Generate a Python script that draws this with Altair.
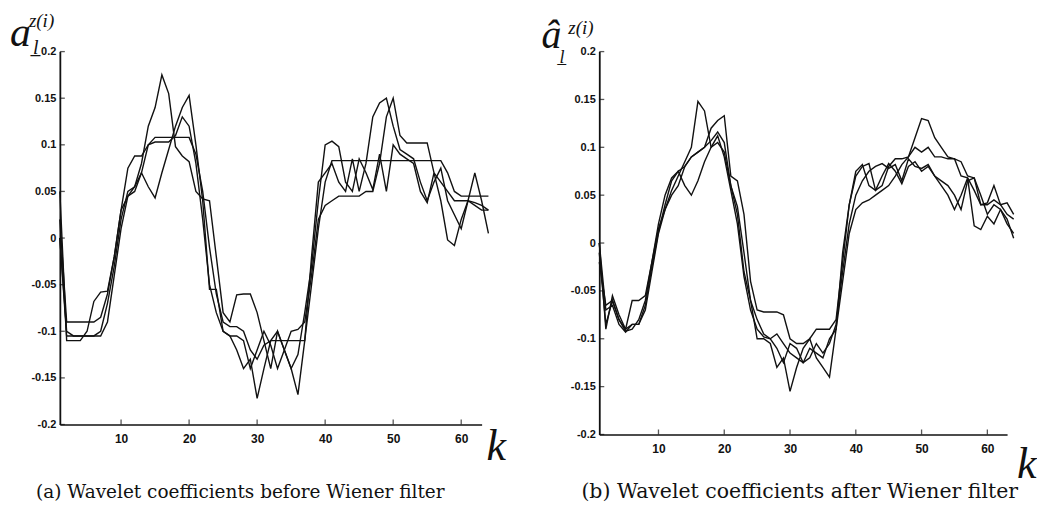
import altair as alt
import pandas as pd

K = list(range(1, 65))

# Panel (a): before Wiener filter
A1 = [0.02, -0.09, -0.09, -0.09, -0.09, -0.09, -0.085, -0.06, -0.02, 0.03,
      0.075, 0.088, 0.088, 0.1, 0.108, 0.108, 0.108, 0.108, 0.108, 0.108,
      0.09, 0.05, -0.01, -0.06, -0.09, -0.095, -0.095, -0.1, -0.12, -0.13,
      -0.115, -0.11, -0.11, -0.11, -0.11, -0.11, -0.11, -0.05, 0.01, 0.06,
      0.083, 0.083, 0.083, 0.083, 0.083, 0.083, 0.083, 0.083, 0.083, 0.083,
      0.083, 0.083, 0.083, 0.083, 0.083, 0.083, 0.083, 0.07, 0.05, 0.045,
      0.045, 0.045, 0.045, 0.045]
A2 = [0.0, -0.105, -0.105, -0.105, -0.105, -0.105, -0.105, -0.09, -0.04, 0.01,
      0.045, 0.05, 0.07, 0.1, 0.103, 0.103, 0.103, 0.11, 0.13, 0.12,
      0.08, 0.02, -0.05, -0.08, -0.1, -0.105, -0.105, -0.11, -0.14, -0.12,
      -0.1, -0.115, -0.14, -0.12, -0.1, -0.098, -0.09, -0.04, 0.02, 0.035,
      0.04, 0.045, 0.045, 0.045, 0.045, 0.05, 0.05, 0.08, 0.13, 0.15,
      0.11, 0.102, 0.102, 0.102, 0.102, 0.07, 0.06, 0.05, 0.04, 0.04,
      0.04, 0.038, 0.035, 0.03]
A3 = [0.05, -0.11, -0.11, -0.11, -0.1, -0.068, -0.058, -0.057, -0.02, 0.03,
      0.045, 0.055, 0.08, 0.12, 0.14, 0.175, 0.155, 0.098, 0.088, 0.082,
      0.05, 0.042, 0.04, -0.02, -0.08, -0.09, -0.061, -0.06, -0.06, -0.08,
      -0.11, -0.14, -0.1, -0.12, -0.14, -0.125, -0.08, -0.03, 0.04, 0.1,
      0.104, 0.098, 0.06, 0.05, 0.085, 0.07, 0.052, 0.09, 0.05, 0.1,
      0.09, 0.085, 0.08, 0.05, 0.038, 0.07, 0.04, -0.002, -0.008, 0.02,
      0.04, 0.035, 0.03, 0.03]
A4 = [0.0, -0.1, -0.105, -0.105, -0.105, -0.105, -0.1, -0.07, -0.03, 0.02,
      0.05, 0.055, 0.07, 0.055, 0.043, 0.07, 0.095, 0.12, 0.14, 0.153,
      0.1, 0.04, -0.055, -0.055, -0.1, -0.105, -0.12, -0.14, -0.13, -0.172,
      -0.14, -0.11, -0.1, -0.12, -0.14, -0.168, -0.11, -0.02, 0.06, 0.07,
      0.08, 0.06, 0.05, 0.085, 0.05, 0.08, 0.13, 0.145, 0.15, 0.12,
      0.095, 0.09, 0.085, 0.06, 0.04, 0.06, 0.075, 0.04, 0.025, 0.01,
      0.04, 0.07, 0.04, 0.005]

# Panel (b): after Wiener filter
B1 = [0.0, -0.09, -0.055, -0.075, -0.09, -0.085, -0.085, -0.07, -0.03, 0.01,
      0.035, 0.055, 0.07, 0.085, 0.1, 0.148, 0.138, 0.1, 0.105, 0.095,
      0.06, 0.038, -0.01, -0.06, -0.1, -0.1, -0.105, -0.13, -0.12, -0.155,
      -0.13, -0.11, -0.1, -0.12, -0.13, -0.14, -0.09, -0.01, 0.04, 0.075,
      0.082, 0.06, 0.055, 0.07, 0.083, 0.075, 0.062, 0.08, 0.085, 0.075,
      0.08, 0.07, 0.06, 0.05, 0.035, 0.05, 0.068, 0.018, 0.014, 0.028,
      0.02, 0.035, 0.025, 0.005]
B2 = [-0.02, -0.065, -0.06, -0.08, -0.09, -0.06, -0.06, -0.055, -0.02, 0.02,
      0.05, 0.068, 0.075, 0.08, 0.09, 0.095, 0.1, 0.12, 0.128, 0.133,
      0.07, 0.065, 0.03, -0.04, -0.07, -0.072, -0.072, -0.072, -0.075, -0.1,
      -0.105, -0.105, -0.1, -0.09, -0.09, -0.09, -0.08, -0.02, 0.04, 0.07,
      0.08, 0.083, 0.055, 0.06, 0.08, 0.088, 0.088, 0.09, 0.11, 0.13,
      0.128, 0.11, 0.1, 0.09, 0.088, 0.085, 0.07, 0.068, 0.04, 0.04,
      0.045, 0.04, 0.042, 0.03]
B3 = [-0.01, -0.085, -0.06, -0.08, -0.092, -0.09, -0.08, -0.06, -0.02, 0.015,
      0.035, 0.05, 0.06, 0.08, 0.09, 0.095, 0.1, 0.107, 0.116, 0.105,
      0.06, 0.03, -0.03, -0.06, -0.08, -0.095, -0.1, -0.095, -0.105, -0.115,
      -0.12, -0.125, -0.11, -0.115, -0.12, -0.1, -0.09, -0.04, 0.01, 0.035,
      0.042, 0.045, 0.05, 0.055, 0.06, 0.07, 0.082, 0.09, 0.1, 0.095,
      0.1, 0.09, 0.09, 0.088, 0.088, 0.07, 0.068, 0.055, 0.04, 0.042,
      0.06, 0.04, 0.03, 0.025]
B4 = [0.0, -0.07, -0.065, -0.085, -0.093, -0.085, -0.085, -0.065, -0.025, 0.012,
      0.04, 0.065, 0.075, 0.06, 0.05, 0.065, 0.085, 0.1, 0.112, 0.09,
      0.055, 0.02, -0.035, -0.07, -0.09, -0.098, -0.1, -0.11, -0.125, -0.105,
      -0.11, -0.125, -0.12, -0.105, -0.115, -0.105, -0.085, -0.03, 0.02, 0.05,
      0.065, 0.075, 0.08, 0.083, 0.078, 0.082, 0.065, 0.088, 0.08, 0.078,
      0.082, 0.07, 0.065, 0.06, 0.05, 0.035, 0.065, 0.068, 0.05, 0.03,
      0.04, 0.035, 0.02, 0.01]

X_TICKS = [10, 20, 30, 40, 50, 60]
Y_TICKS = [-0.2, -0.15, -0.1, -0.05, 0, 0.05, 0.1, 0.15, 0.2]
CAPTION_A = "(a) Wavelet coefficients before Wiener filter"
CAPTION_B = "(b) Wavelet coefficients after Wiener filter"
X_LABEL = "k"

SERIF = "Liberation Serif"
CAP_FONT = "DejaVu Serif"
SANS = "Liberation Sans"
INK = "#111111"

X_AXIS = alt.Axis(
    values=X_TICKS, title=None, grid=False, ticks=False, labelPadding=9,
    labelFont=SANS, labelFontSize=12, labelFontWeight="bold", labelColor=INK,
    domainColor=INK, domainWidth=1.6)
Y_AXIS = alt.Axis(
    values=Y_TICKS, title=None, grid=False, ticks=False, labelPadding=4,
    labelFont=SANS, labelFontSize=11, labelFontWeight="bold", labelColor=INK,
    domainColor=INK, domainWidth=1.8,
    labelExpr="datum.value < 0 ? '-' + format(-datum.value, '~g') : format(datum.value, '~g')")


def text_layer(txt, x, y, size, italic=True, align="left", baseline="alphabetic", font=SERIF):
    return alt.Chart(pd.DataFrame({"t": [txt]})).mark_text(
        font=font, fontSize=size, fontStyle="italic" if italic else "normal",
        align=align, baseline=baseline, color=INK,
    ).encode(x=alt.value(x), y=alt.value(y), text="t:N")


def panel(series, w, h, title_layers, caption, cap_x, cap_y, cap_size, kx, ky):
    rows = []
    for i, s in enumerate(series):
        for kk, v in zip(K, s):
            rows.append({"k": kk, "v": v, "s": f"s{i}"})
    df = pd.DataFrame(rows)
    xs = alt.Scale(domain=[1, 63], nice=False, zero=False)
    ys = alt.Scale(domain=[-0.2, 0.2], nice=False, zero=False)
    lines = alt.Chart(df).mark_line(color=INK, strokeWidth=1.4, clip=False).encode(
        x=alt.X("k:Q", scale=xs, axis=X_AXIS),
        y=alt.Y("v:Q", scale=ys, axis=Y_AXIS),
        detail="s:N",
    )
    yt = alt.Chart(pd.DataFrame({"t": Y_TICKS})).mark_tick(
        color=INK, size=5, thickness=1.3).encode(
        y=alt.Y("t:Q", scale=ys, axis=Y_AXIS), x=alt.value(2.5))
    xt = alt.Chart(pd.DataFrame({"t": X_TICKS})).mark_tick(
        color=INK, size=5, thickness=1.3).encode(
        x=alt.X("t:Q", scale=xs, axis=X_AXIS), y=alt.value(h - 2.5))
    cap = text_layer(caption, cap_x, cap_y, cap_size, italic=False,
                     align="center", baseline="middle", font=CAP_FONT)
    kl = text_layer(X_LABEL, kx, ky, 44)
    return alt.layer(lines, yt, xt, cap, kl, *title_layers).properties(width=w, height=h)


left_title = [
    text_layer("a", -50, -6, 42),
    text_layer("l\u0332", -27, 2, 20),
    text_layer("z(i)", -31, -25, 19),
]
right_title = [
    text_layer("\u00e2", -58, -4, 40),
    text_layer("l\u0332", -40, 11, 18),
    text_layer("z(i)", -31, -18, 19),
]

left = panel([A1, A2, A3, A4], 423, 374, left_title, CAPTION_A, 181, 442, 18.5, 428, 410)
right = panel([B1, B2, B3, B4], 409, 384, right_title, CAPTION_B, 201, 442, 20.5, 419, 428)

chart = alt.hconcat(left, right, spacing=118, bounds="flush").properties(
    padding={"left": 2, "top": 3, "right": 0, "bottom": 0}
).configure(background="white").configure_view(stroke=None)

chart.save("out.html", embed_options={"renderer": "svg", "actions": False})
